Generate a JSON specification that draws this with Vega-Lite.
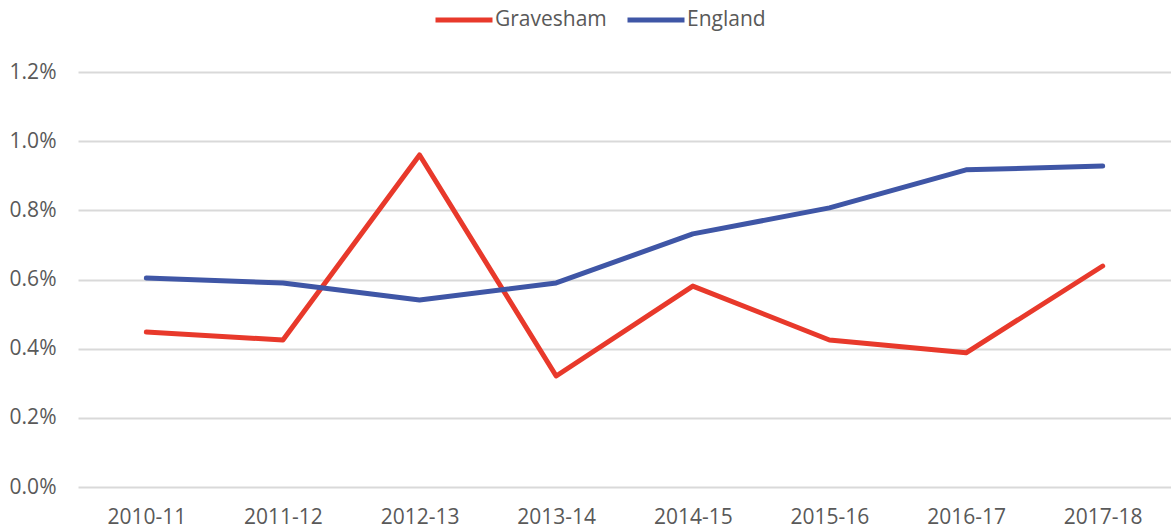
{
  "$schema": "https://vega.github.io/schema/vega-lite/v6.json",
  "autosize": {"type": "none"},
  "padding": {"left": 78, "top": 72, "right": 0, "bottom": 45},
  "width": 1093,
  "height": 415,
  "background": "white",
  "config": {
    "font": "Open Sans",
    "view": {"stroke": null}
  },
  "data": {
    "values": [
      {"year": "2010-11", "area": "Gravesham", "value": 0.00448},
      {"year": "2011-12", "area": "Gravesham", "value": 0.00425},
      {"year": "2012-13", "area": "Gravesham", "value": 0.0096},
      {"year": "2013-14", "area": "Gravesham", "value": 0.00321},
      {"year": "2014-15", "area": "Gravesham", "value": 0.00581},
      {"year": "2015-16", "area": "Gravesham", "value": 0.00425},
      {"year": "2016-17", "area": "Gravesham", "value": 0.00388},
      {"year": "2017-18", "area": "Gravesham", "value": 0.00639},
      {"year": "2010-11", "area": "England", "value": 0.00604},
      {"year": "2011-12", "area": "England", "value": 0.0059},
      {"year": "2012-13", "area": "England", "value": 0.00541},
      {"year": "2013-14", "area": "England", "value": 0.0059},
      {"year": "2014-15", "area": "England", "value": 0.00732},
      {"year": "2015-16", "area": "England", "value": 0.00807},
      {"year": "2016-17", "area": "England", "value": 0.00917},
      {"year": "2017-18", "area": "England", "value": 0.00928}
    ]
  },
  "mark": {"type": "line", "strokeWidth": 5, "strokeCap": "round", "strokeJoin": "round"},
  "encoding": {
    "x": {
      "field": "year", "type": "ordinal",
      "scale": {"type": "point", "padding": 0.5},
      "axis": {"title": null, "labelAngle": 0, "ticks": false, "domain": false, "labelFontSize": 21, "labelColor": "#595959", "labelPadding": 19, "grid": false}
    },
    "y": {
      "field": "value", "type": "quantitative",
      "scale": {"domain": [0, 0.012], "nice": false},
      "axis": {"title": null, "format": ".1%", "values": [0, 0.002, 0.004, 0.006, 0.008, 0.01, 0.012], "ticks": false, "domain": false, "labelFontSize": 21, "labelColor": "#595959", "labelPadding": 22, "gridColor": "#D9D9D9", "gridWidth": 2}
    },
    "color": {
      "field": "area", "type": "nominal", "sort": ["Gravesham", "England"],
      "scale": {"domain": ["Gravesham", "England"], "range": ["#E8392B", "#3F56A6"]},
      "legend": {"title": null, "orient": "none", "direction": "horizontal", "legendX": 355, "legendY": -83, "symbolType": "stroke", "symbolSize": 3249, "symbolStrokeWidth": 5, "labelFontSize": 21, "labelColor": "#595959", "columnPadding": 10, "labelOffset": 0}
    }
  }
}
